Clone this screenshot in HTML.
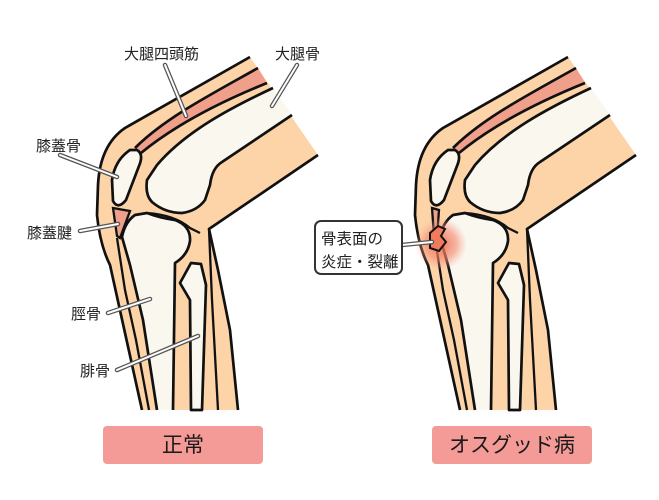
<!DOCTYPE html>
<html><head><meta charset="utf-8"><style>
html,body{margin:0;padding:0;background:#fff;width:659px;height:500px;overflow:hidden}
svg{display:block}
text{font-family:"Liberation Sans","Noto Sans CJK JP",sans-serif;fill:#222}
</style></head><body>
<svg width="659" height="500" viewBox="0 0 659 500" xmlns="http://www.w3.org/2000/svg">
<defs>
<radialGradient id="glow"><stop offset="0" stop-color="#F06848" stop-opacity="0.9"/><stop offset="0.6" stop-color="#F48870" stop-opacity="0.6"/><stop offset="1" stop-color="#F8A890" stop-opacity="0"/></radialGradient>
<g id="knee">
<path d="M250,57 L125,128 Q100,145 98,185 L97,215 Q100,245 110,265 L142,410 L238,410 L230,330 L218,270 L209,229 L318,155 Z" fill="#FDD3A8"/>
<path d="M258,68 C210,95 165,118 135,148 L141,153 C175,125 220,102 267,83 Z" fill="#F0A08A"/>
<path d="M258,68 C210,95 165,118 135,148" fill="none" stroke="#111" stroke-width="2.7"/>
<path d="M267,83 C220,102 175,125 141,153" fill="none" stroke="#111" stroke-width="2.7"/>
<path d="M273,88 C230,108 185,132 157,165 L147,180 Q145,195 152,202 Q165,213 182,213 Q197,211 205,200 L210,185 Q212,168 222,162 L292,115 Z" fill="#FAF7EF"/>
<path d="M273,88 C230,108 185,132 157,165 L147,180 Q145,195 152,202 Q165,213 182,213 Q197,211 205,200 L210,185 Q212,168 222,162 L292,115" fill="none" stroke="#111" stroke-width="2.7" stroke-linejoin="round"/>
<path d="M250,57 L125,128 Q100,145 98,185 L97,215 Q100,245 110,265 L142,410" fill="none" stroke="#111" stroke-width="2.7"/>
<path d="M238,410 L230,330 L218,270 L209,229 L318,155" fill="none" stroke="#111" stroke-width="2.7" stroke-linejoin="round"/>
<path d="M122,237 Q125,222 135,215 L147,213 Q160,218 175,220 Q191,226 190,241 Q188,255 175,263 L173,410 L157,410 L143,320 L130,265 Z" fill="#FAF7EF"/>
<path d="M157,410 L143,320 L130,265 L122,237 Q125,222 135,215 L147,213 Q160,218 175,220 Q191,226 190,241 Q188,255 175,263 L173,410" fill="none" stroke="#111" stroke-width="2.7" stroke-linejoin="round"/>
<path d="M180,283 L191,263 L201,264 L206,285 L202,410 L191,410 L190,300 Z" fill="#FAF7EF" stroke="#111" stroke-width="2.7" stroke-linejoin="round"/>
<path d="M147,213 Q175,215 190,228 L200,233" fill="none" stroke="#111" stroke-width="2.3"/>
<path d="M209,229 L212,300 L218,410" fill="none" stroke="#111" stroke-width="2.3"/>
<path d="M117,238 L125,290 L136,340 L149,410" fill="none" stroke="#111" stroke-width="2.3"/>
</g>
</defs>

<use href="#knee"/>
<path d="M137,150 Q144,154 139,166 L126,200 Q118,210 113,201 L112,180 Q115,160 130,150 Z" fill="#FAF7EF" stroke="#111" stroke-width="2.7"/>
<path d="M113,208 L130,211 L120,238 L117,236 Z" fill="#F0A08A" stroke="#111" stroke-width="2.3"/>

<g transform="translate(318,0)">
<use href="#knee"/>
<path d="M137,150 Q144,154 139,166 L126,200 Q118,210 113,201 L112,180 Q115,160 130,150 Z" fill="#FAF7EF" stroke="#111" stroke-width="2.7"/>
<path d="M114,208 L121,210 L119,238 L116,236 Z" fill="#F0A08A" stroke="#111" stroke-width="2.3"/>
<circle cx="123" cy="244" r="26" fill="url(#glow)"/>
<path d="M112,233 L120,226 L127,229 L123,236 L128,242 L121,251 L112,248 Z" fill="#F07A5A" stroke="#111" stroke-width="2"/>
</g>

<g stroke-linecap="round">
<g stroke="#555" stroke-width="4.5">
<line x1="165" y1="65" x2="186" y2="116"/><line x1="297" y1="65" x2="272" y2="106"/>
<line x1="60" y1="155" x2="117" y2="177"/><line x1="80" y1="231" x2="118" y2="224"/>
<line x1="108" y1="313" x2="150" y2="299"/><line x1="117" y1="370" x2="198" y2="336"/>
<line x1="402" y1="245" x2="432" y2="242"/>
</g>
<g stroke="#fff" stroke-width="2">
<line x1="165" y1="65" x2="186" y2="116"/><line x1="297" y1="65" x2="272" y2="106"/>
<line x1="60" y1="155" x2="117" y2="177"/><line x1="80" y1="231" x2="118" y2="224"/>
<line x1="108" y1="313" x2="150" y2="299"/><line x1="117" y1="370" x2="198" y2="336"/>
<line x1="402" y1="245" x2="432" y2="242"/>
</g>
</g>

<g font-size="15">
<text x="124" y="59">大腿四頭筋</text>
<text x="275" y="59">大腿骨</text>
<text x="36" y="151">膝蓋骨</text>
<text x="27" y="238">膝蓋腱</text>
<text x="71" y="319">脛骨</text>
<text x="80" y="376">腓骨</text>
</g>

<rect x="315" y="221" width="87" height="53" rx="6" fill="#fff" stroke="#333" stroke-width="2"/>
<text x="321" y="244" font-size="15.5">骨表面の</text>
<text x="321" y="267" font-size="15.5">炎症・裂離</text>

<rect x="103" y="426" width="160" height="38" rx="4" fill="#F49A97"/>
<text x="183" y="452" font-size="21" text-anchor="middle" style="fill:#1a1a1a">正常</text>
<rect x="432" y="426" width="160" height="38" rx="4" fill="#F49A97"/>
<text x="512" y="452" font-size="21" text-anchor="middle" style="fill:#1a1a1a">オスグッド病</text>
</svg>
</body></html>
